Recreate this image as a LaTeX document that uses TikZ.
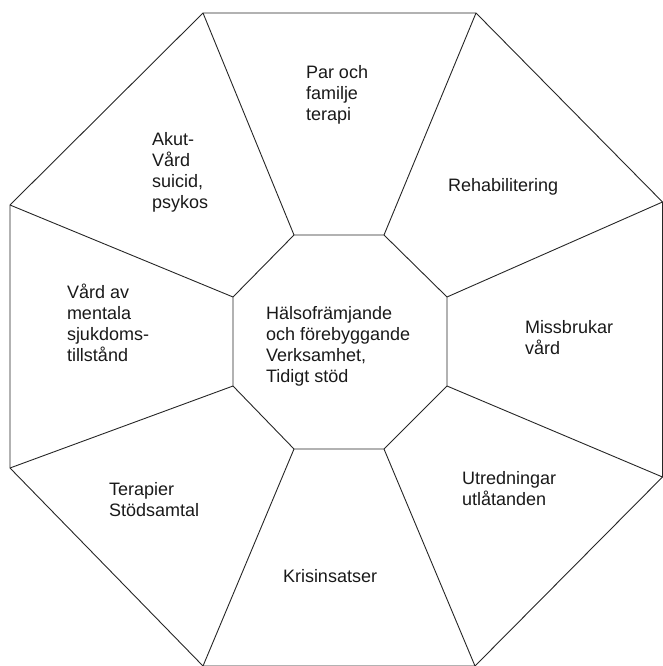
\documentclass[tikz,border=0pt]{standalone}
\usepackage{fontspec}
\setmainfont{Liberation Sans}
\tikzset{
  edge/.style={draw=black!85, line width=0.9pt, line join=miter},
  lbl/.style={anchor=base west, inner sep=0pt, outer sep=0pt, text=black!90,
    font=\fontsize{18}{21}\selectfont}
}
\newcommand{\lines}[1]{\begin{tabular}[t]{@{}l@{}}#1\end{tabular}}
\begin{document}
\begin{tikzpicture}[x=1pt,y=-1pt]
\useasboundingbox (0,0) rectangle (663,666);
% outer octagon
\coordinate (O1) at (203,13);
\coordinate (O2) at (476,13);
\coordinate (O3) at (662.5,202);
\coordinate (O4) at (662.5,477);
\coordinate (O5) at (475,666);
\coordinate (O6) at (203,666);
\coordinate (O7) at (10,468);
\coordinate (O8) at (10,205);
% inner octagon
\coordinate (I1) at (294,235);
\coordinate (I2) at (384,235);
\coordinate (I3) at (447,297);
\coordinate (I4) at (447,386);
\coordinate (I5) at (384,449);
\coordinate (I6) at (294,449);
\coordinate (I7) at (233,386);
\coordinate (I8) at (233,297);
\draw[edge] (O1) -- (O2) -- (O3) -- (O4) -- (O5) -- (O6) -- (O7) -- (O8) -- cycle;
\draw[edge] (I1) -- (I2) -- (I3) -- (I4) -- (I5) -- (I6) -- (I7) -- (I8) -- cycle;
\foreach \i in {1,...,8} \draw[edge] (I\i) -- (O\i);
% labels
\node[lbl] (par) at (306,79) {\lines{Par och\\familje\\terapi}};
\node[lbl] (akut) at (152,145) {\lines{Akut-\\Vård\\suicid,\\psykos}};
\node[lbl] (rehab) at (448,191) {Rehabilitering};
\node[lbl] (vard) at (67,298) {\lines{Vård av\\mentala\\sjukdoms-\\tillstånd}};
\node[lbl] (miss) at (525,333) {\lines{Missbrukar\\vård}};
\node[lbl] (center) at (266,319) {\lines{Hälsofrämjande\\och förebyggande\\Verksamhet,\\Tidigt stöd}};
\node[lbl] (terapi) at (109,495) {\lines{Terapier\\Stödsamtal}};
\node[lbl] (utr) at (462,484) {\lines{Utredningar\\utlåtanden}};
\node[lbl] (kris) at (283,582) {Krisinsatser};
\end{tikzpicture}
\end{document}
